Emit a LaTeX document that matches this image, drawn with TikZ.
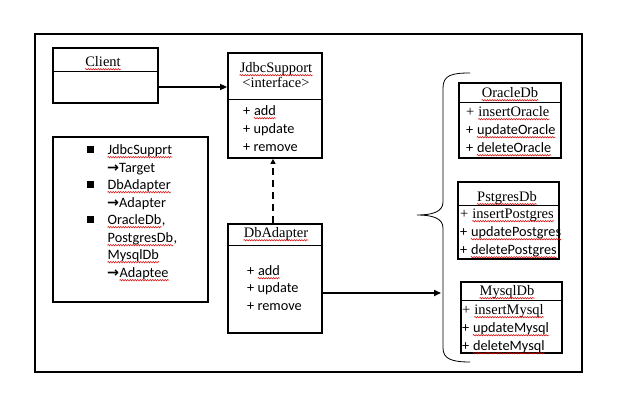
\documentclass[tikz,border=0pt]{standalone}
\usepackage{fontspec}
\setmainfont{Liberation Serif}
\newfontfamily\calib{Carlito}
\newfontfamily\dejavu{DejaVu Sans}
\usetikzlibrary{arrows.meta,decorations.pathmorphing}
\newcommand{\sq}[1]{\tikz[baseline=(sqw.base)]{\node[inner sep=0pt, anchor=base] (sqw) at (0,0) {#1};
    \draw[red!85!black, line width=0.5pt, decorate, decoration={snake, amplitude=0.7pt, segment length=2.5pt}]
        ([yshift=-2.2pt]sqw.base west) -- ([yshift=-2.2pt]sqw.base east);}}
\newcommand{\toarr}{{\dejavu\bfseries →}}
\begin{document}
\begin{tikzpicture}[x=1pt, y=-1pt,
        box/.style={draw, line width=1.8pt, inner sep=0pt},
        sep/.style={line width=0.8pt},
        title/.style={anchor=base, inner sep=0pt, font=\fontsize{14.5}{17}\selectfont},
        meth/.style={anchor=base west, inner sep=0pt, font=\fontsize{14.3}{17}\selectfont\calib},
        smeth/.style={anchor=base west, inner sep=0pt, font=\fontsize{14.5}{17}\selectfont},
        bullet/.style={fill, inner sep=0pt, minimum size=7pt},
        link/.style={line width=1.6pt, -{Triangle[length=7pt, width=6pt]}}]
        \useasboundingbox (0,0) rectangle (627,406);
        
        % frame
        \node[box, minimum width=547pt, minimum height=338pt] (frame) at (308.5,203) {};
        
        % client
        \node[box, minimum width=105pt, minimum height=55pt] (client) at (105.5,75.5) {};
        \draw[sep] (client.west |- 0,71) -- (client.east |- 0,71);
        \node[title] (clientname) at (103,67) {\sq{Client}};
        
        % jdbc support
        \node[box, minimum width=94pt, minimum height=105pt] (jdbc) at (275,105.5) {};
        \draw[sep] (jdbc.west |- 0,99) -- (jdbc.east |- 0,99);
        \node[title] (jdbcname) at (276,73) {\sq{JdbcSupport}};
        \node[title] (jdbctype) at (276,88) {<interface>};
        \node[meth] (jadd) at (243,116) {+ \sq{add}};
        \node[meth] (jupd) at (243,134) {+ update};
        \node[meth] (jrem) at (243,152) {+ remove};
        
        % legend
        \node[box, minimum width=155pt, minimum height=165pt] (legend) at (130.5,219.5) {};
        \node[bullet] (b1) at (90.5,150) {};
        \node[bullet] (b2) at (90.5,185) {};
        \node[bullet] (b3) at (90.5,220) {};
        \node[meth] (l1) at (107,155) {\sq{JdbcSupprt}};
        \node[meth] (l2) at (107,173) {\toarr Target};
        \node[meth] (l3) at (107,190) {\sq{DbAdapter}};
        \node[meth] (l4) at (107,208) {\toarr Adapter};
        \node[meth] (l5) at (107,225) {\sq{OracleDb},};
        \node[meth] (l6) at (107,243) {\sq{PostgresDb},};
        \node[meth] (l7) at (107,260) {\sq{MysqlDb}};
        \node[meth] (l8) at (107,278) {\toarr\sq{Adaptee}};
        
        % db adapter
        \node[box, minimum width=94pt, minimum height=109pt] (dbad) at (275,278.5) {};
        \draw[sep] (dbad.west |- 0,245) -- (dbad.east |- 0,245);
        \node[title] (dbadname) at (276,238) {\sq{DbAdapter}};
        \node[meth] (dadd) at (247,276) {+ \sq{add}};
        \node[meth] (dupd) at (247,293) {+ update};
        \node[meth] (drem) at (247,311) {+ remove};
        
        % oracle
        \node[box, minimum width=102pt, minimum height=75pt] (oracle) at (510,120.5) {};
        \draw[sep] (oracle.west |- 0,102) -- (oracle.east |- 0,102);
        \node[title] (oraname) at (510,98) {\sq{OracleDb}};
        \node[smeth] (oins) at (466,117) {+ \sq{insertOracle}};
        \node[meth] (oupd) at (466,135) {+ \sq{updateOracle}};
        \node[meth] (odel) at (466,153) {+ \sq{deleteOracle}};
        
        % postgres
        \node[box, minimum width=101pt, minimum height=77pt] (pstgres) at (508.5,220.5) {};
        \draw[sep] (pstgres.west |- 0,205) -- (pstgres.east |- 0,205);
        \node[title] (pgname) at (507,202) {\sq{PstgresDb}};
        \node[smeth] (pins) at (460,219) {+ \sq{insertPostgres}};
        \node[meth] (pupd) at (460,237) {+ \sq{updatePostgres}};
        \node[meth] (pdel) at (460,255) {+ \sq{deletePostgres}};
        
        % mysql
        \node[box, minimum width=101pt, minimum height=71pt] (mysql) at (511.5,317.5) {};
        \draw[sep] (mysql.west |- 0,300) -- (mysql.east |- 0,300);
        \node[title] (myname) at (507,296) {\sq{MysqlDb}};
        \node[smeth] (mins) at (462,315) {+ \sq{insertMysql}};
        \node[meth] (mupd) at (462,333) {+ \sq{updateMysql}};
        \node[meth] (mdel) at (462,351) {+ \sq{deleteMysql}};
        
        % brace
        \draw[line width=0.8pt] (470,73) .. controls (452,73) and (443,75) .. (443,88)
            -- (443,202) .. controls (443,212) and (432,215) .. (417,215)
            .. controls (432,215) and (443,218) .. (443,228)
            -- (443,348) .. controls (443,359) and (452,362) .. (470,362);
        \coordinate (bracein) at (441,293);
        
        % arrows
        \coordinate (ca) at (client.east |- 0,87);
        \draw[link] (ca) -- (ca -| jdbc.west);
        \draw[line width=1.5pt, dash pattern=on 7pt off 5pt, -{Triangle[length=5pt, width=5pt]}] ([xshift=-2pt]dbad.north) -- ([xshift=-2pt]jdbc.south);
        \draw[link] (dbad.east |- bracein) -- (bracein);
\end{tikzpicture}
\end{document}
